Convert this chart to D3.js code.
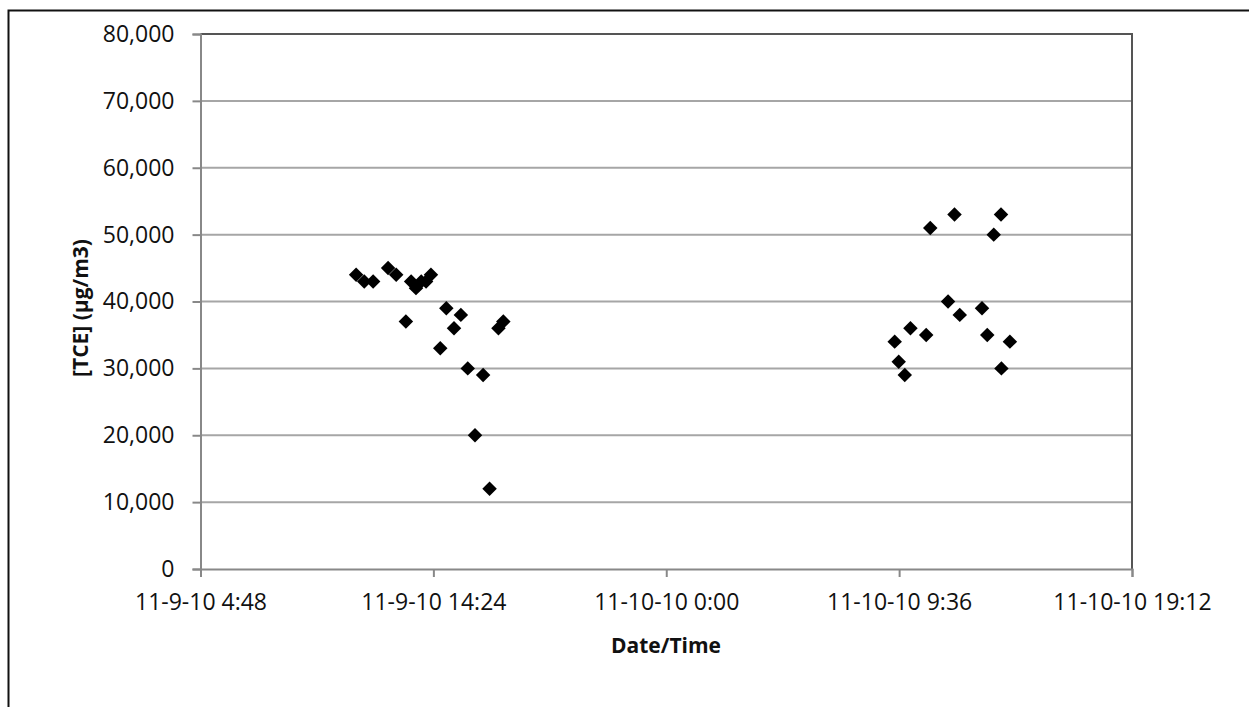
<!DOCTYPE html>
<html>
<head>
  <title>TCE concentration over time</title>
  <script src="https://d3js.org/d3.v7.min.js"></script>
  <style>
    body { margin: 0; background: #fff; }
    text { font-family: "Open Sans", sans-serif; fill: #111; }
  </style>
</head>
<body>
<svg id="chart" width="1249" height="707"></svg>
<script>
// sample times (month-day-year hour:minute) and concentrations
var times = [
  "11-9-10 11:13", "11-9-10 11:33", "11-9-10 11:55", "11-9-10 12:32", "11-9-10 12:52",
  "11-9-10 13:16", "11-9-10 13:29", "11-9-10 13:41", "11-9-10 13:54", "11-9-10 14:06",
  "11-9-10 14:18", "11-9-10 14:41", "11-9-10 14:56", "11-9-10 15:15", "11-9-10 15:32",
  "11-9-10 15:49", "11-9-10 16:07", "11-9-10 16:27", "11-9-10 16:43", "11-9-10 17:05",
  "11-9-10 17:17",
  "11-10-10 9:25", "11-10-10 9:35", "11-10-10 9:50", "11-10-10 10:04", "11-10-10 10:43",
  "11-10-10 10:53", "11-10-10 11:37", "11-10-10 11:53", "11-10-10 12:06", "11-10-10 13:01",
  "11-10-10 13:14", "11-10-10 13:30", "11-10-10 13:48", "11-10-10 13:49", "11-10-10 14:10"
];
var tce = [
  44000, 43000, 43000, 45000, 44000,
  37000, 43000, 42000, 43000, 43000,
  44000, 33000, 39000, 36000, 38000,
  30000, 20000, 29000, 12000, 36000,
  37000,
  34000, 31000, 29000, 36000, 35000,
  51000, 40000, 53000, 38000, 39000,
  35000, 50000, 53000, 30000, 34000
];
var xTickLabels = ["11-9-10 4:48", "11-9-10 14:24", "11-10-10 0:00", "11-10-10 9:36", "11-10-10 19:12"];
var yTicks = [0, 10000, 20000, 30000, 40000, 50000, 60000, 70000, 80000];

var parse = d3.timeParse("%m-%d-%y %H:%M");
var fmt = d3.timeFormat("%-m-%-d-%y %-H:%M");
var xTicks = xTickLabels.map(parse);
var data = times.map(function (t, i) { return { t: parse(t), v: tce[i] }; });

var svg = d3.select("#chart");
var plotLeft = 200.5, plotRight = 1132, plotTop = 34, plotBottom = 569;

var x = d3.scaleTime().domain([xTicks[0], xTicks[xTicks.length - 1]]).range([plotLeft, plotRight]);
var y = d3.scaleLinear().domain([0, 80000]).range([plotBottom, plotTop]);

// outer chart frame (runs off the picture at right and bottom)
svg.append("rect")
  .attr("x", 8.5).attr("y", 10.5)
  .attr("width", 1300).attr("height", 760)
  .attr("fill", "none").attr("stroke", "#111").attr("stroke-width", 2);

// gridlines
svg.append("g").selectAll("line")
  .data(yTicks.slice(1))
  .enter().append("line")
  .attr("x1", plotLeft).attr("x2", plotRight)
  .attr("y1", function (d) { return y(d); })
  .attr("y2", function (d) { return y(d); })
  .attr("stroke", "#a6a6a6").attr("stroke-width", 2);

// top and right border of plot area
svg.append("path")
  .attr("d", "M" + plotLeft + "," + plotTop + "H" + plotRight + "V" + plotBottom)
  .attr("fill", "none").attr("stroke", "#555").attr("stroke-width", 2);

// y axis
var yAxis = svg.append("g")
  .attr("transform", "translate(" + plotLeft + ",0)")
  .call(d3.axisLeft(y).tickValues(yTicks).tickSize(8).tickPadding(18)
    .tickFormat(d3.format(",")));
yAxis.select(".domain").attr("stroke", "#888").attr("stroke-width", 2);
yAxis.selectAll(".tick line").attr("stroke", "#888").attr("stroke-width", 2);
yAxis.selectAll("text").style("font-size", "23px").attr("fill", "#111");

// x axis
var xAxis = svg.append("g")
  .attr("transform", "translate(0," + plotBottom + ")")
  .call(d3.axisBottom(x).tickValues(xTicks).tickSize(8).tickPadding(17)
    .tickFormat(fmt));
xAxis.select(".domain").attr("stroke", "#888").attr("stroke-width", 2);
xAxis.selectAll(".tick line").attr("stroke", "#888").attr("stroke-width", 2);
xAxis.selectAll("text").style("font-size", "23px").attr("fill", "#111");

// points (diamonds)
svg.append("g").selectAll("path")
  .data(data)
  .enter().append("path")
  .attr("d", d3.symbol().type(d3.symbolSquare).size(105))
  .attr("transform", function (d) {
    return "translate(" + x(d.t) + "," + y(d.v) + ") rotate(45)";
  })
  .attr("fill", "#000");

// axis titles
svg.append("text")
  .attr("transform", "translate(88,308) rotate(-90)")
  .attr("text-anchor", "middle")
  .style("font-size", "21px").style("font-weight", "bold")
  .text("[TCE] (µg/m3)");

svg.append("text")
  .attr("x", 666).attr("y", 653)
  .attr("text-anchor", "middle")
  .style("font-size", "21px").style("font-weight", "bold")
  .text("Date/Time");
</script>
</body>
</html>
